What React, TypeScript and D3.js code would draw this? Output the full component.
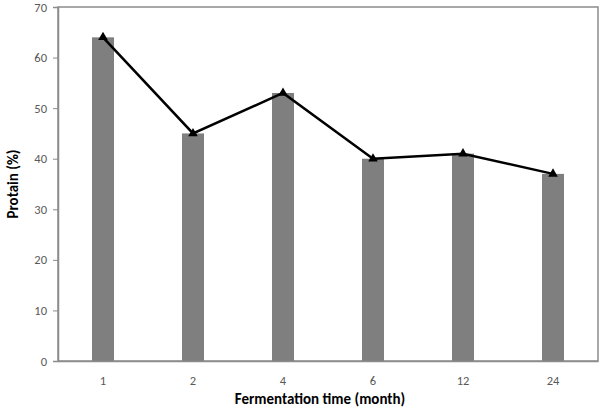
import React, { useEffect, useRef } from 'react'
import * as d3 from 'd3'

// fermentation time categories (months)
const months = ['1', '2', '4', '6', '12', '24']
// protein content (%)
const protein = [64, 45, 53, 40, 41, 37]
const yTicks = [0, 10, 20, 30, 40, 50, 60, 70]

const FONT = 'Carlito, Calibri, Lato, "Open Sans", sans-serif'

const App: React.FC = () => {
  const ref = useRef<SVGSVGElement | null>(null)

  useEffect(() => {
    if (!ref.current) return
    const svg = d3.select(ref.current)
    svg.selectAll('*').remove()

    const margin = { top: 7, right: 7, bottom: 47, left: 58 }
    const W = 605, H = 408
    const width = W - margin.left - margin.right
    const height = H - margin.top - margin.bottom

    const g = svg.append('g').attr('transform', `translate(${margin.left},${margin.top})`)

    const x = d3.scaleBand<string>().domain(months).range([0, width]).padding(0)
    const y = d3.scaleLinear().domain([0, 70]).range([height, 0])
    const barW = 22

    // plot area border
    g.append('rect')
      .attr('x', 0).attr('y', 0)
      .attr('width', width).attr('height', height)
      .attr('fill', 'none')
      .attr('stroke', '#8c8c8c')
      .attr('stroke-width', 1.5)

    // bars
    g.selectAll('.bar')
      .data(protein)
      .join('rect')
      .attr('class', 'bar')
      .attr('x', (d, i) => (x(months[i]) as number) + x.bandwidth() / 2 - barW / 2)
      .attr('y', d => y(d))
      .attr('width', barW)
      .attr('height', d => height - y(d))
      .attr('fill', '#7f7f7f')

    // y axis
    const yAxis = g.append('g')
      .call(d3.axisLeft(y).tickValues(yTicks).tickSize(5).tickPadding(6))
    yAxis.select('.domain').attr('stroke', '#8c8c8c').attr('stroke-width', 1.5)
    yAxis.selectAll('.tick line').attr('stroke', '#8c8c8c')
    yAxis.selectAll('text')
      .attr('fill', '#595959')
      .style('font-family', FONT)
      .style('font-size', '12.5px')

    // x axis
    const xAxis = g.append('g')
      .attr('transform', `translate(0,${height})`)
      .call(d3.axisBottom(x).tickSize(0).tickPadding(15))
    xAxis.select('.domain').attr('stroke', '#8c8c8c').attr('stroke-width', 1.5)
    xAxis.selectAll('text')
      .attr('fill', '#595959')
      .style('font-family', FONT)
      .style('font-size', '12.5px')

    // line with triangle markers
    const line = d3.line<number>()
      .x((d, i) => (x(months[i]) as number) + x.bandwidth() / 2)
      .y(d => y(d))
    g.append('path')
      .datum(protein)
      .attr('d', line)
      .attr('fill', 'none')
      .attr('stroke', '#000')
      .attr('stroke-width', 2.5)

    const tri = d3.symbol().type(d3.symbolTriangle).size(40)
    g.selectAll('.marker')
      .data(protein)
      .join('path')
      .attr('class', 'marker')
      .attr('d', tri)
      .attr('transform', (d, i) => `translate(${(x(months[i]) as number) + x.bandwidth() / 2},${y(d)})`)
      .attr('fill', '#000')

    // axis titles
    svg.append('text')
      .attr('x', 320)
      .attr('y', 404)
      .attr('text-anchor', 'middle')
      .attr('fill', '#000')
      .style('font-family', FONT)
      .style('font-size', '15px')
      .style('font-weight', 'bold')
      .text('Fermentation time (month)')

    svg.append('text')
      .attr('transform', 'rotate(-90)')
      .attr('x', -184)
      .attr('y', 18)
      .attr('text-anchor', 'middle')
      .attr('fill', '#000')
      .style('font-family', FONT)
      .style('font-size', '15px')
      .style('font-weight', 'bold')
      .text('Protain (%)')
  }, [])

  return (
    <svg
      ref={ref}
      width={605}
      height={408}
      style={{ position: 'absolute', left: 0, top: 0, background: '#fff' }}
    />
  )
}

export default App
